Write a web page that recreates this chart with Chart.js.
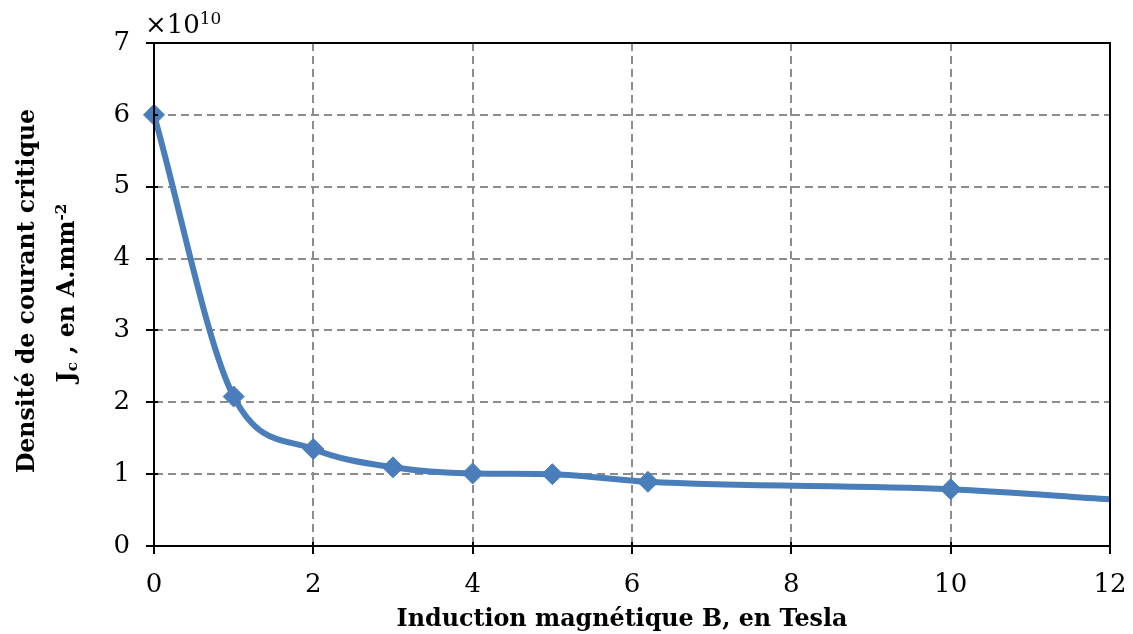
<!DOCTYPE html>
<html>
<head>
<meta charset="utf-8">
<script src="https://cdn.jsdelivr.net/npm/chart.js@4/dist/chart.umd.min.js"></script>
<style>
  html, body { margin: 0; padding: 0; background: #fff; }
  #wrap { width: 1133px; height: 634px; position: relative; }
</style>
</head>
<body>
<div id="wrap"><canvas id="myChart"></canvas></div>
<script>
// induction B (Tesla) et densité de courant critique Jc (A.mm-2)
const inductionB = [0, 1, 2, 3, 4, 5, 6.2, 10, 12];
const densiteJc = [6.0e10, 2.08e10, 1.35e10, 1.095e10, 1.01e10, 1.0e10, 0.893e10, 0.79e10, 0.65e10];
const xTicks = [0, 2, 4, 6, 8, 10, 12];
const yTicks = [0, 1, 2, 3, 4, 5, 6, 7];
const facteur = 1e10;

const bleu = '#4a7ebb';
const serif = '"DejaVu Serif", "Liberation Serif", serif';

// dessine une suite de morceaux de texte (indice / exposant) sur une ligne
function drawRich(ctx, parts, size, bold, align) {
  let total = 0;
  parts.forEach(p => {
    const s = p.pos ? size * 0.65 : size;
    ctx.font = (bold ? 'bold ' : '') + s + 'px ' + serif;
    p.w = ctx.measureText(p.t).width;
    p.s = s;
    total += p.w;
  });
  let x = align === 'left' ? 0 : -total / 2;
  parts.forEach(p => {
    ctx.font = (bold ? 'bold ' : '') + p.s + 'px ' + serif;
    let dy = 0;
    if (p.pos === 'sup') dy = -size * 0.33;
    if (p.pos === 'sub') dy = size * 0.12;
    ctx.fillText(p.t, x, dy);
    x += p.w;
  });
}

const titres = {
  id: 'titres',
  afterDraw(c) {
    const ctx = c.ctx;
    const a = c.chartArea;
    ctx.save();
    ctx.fillStyle = '#000';
    ctx.textAlign = 'left';
    ctx.textBaseline = 'alphabetic';

    // cadre noir autour de la zone de tracé
    ctx.strokeStyle = '#000';
    ctx.lineWidth = 2;
    ctx.strokeRect(a.left, a.top, a.right - a.left, a.bottom - a.top);

    // petites graduations qui dépassent vers l'intérieur
    ctx.beginPath();
    c.scales.x.ticks.forEach(t => {
      const px = Math.round(c.scales.x.getPixelForValue(t.value));
      ctx.moveTo(px, a.bottom);
      ctx.lineTo(px, a.bottom - 4);
    });
    c.scales.y.ticks.forEach(t => {
      const py = Math.round(c.scales.y.getPixelForValue(t.value));
      ctx.moveTo(a.left, py);
      ctx.lineTo(a.left + 4, py);
    });
    ctx.stroke();

    // facteur d'échelle de l'axe vertical
    ctx.save();
    ctx.translate(145, 33);
    drawRich(ctx, [{ t: '×10' }, { t: '10', pos: 'sup' }], 26, false, 'left');
    ctx.restore();

    // titre de l'axe horizontal
    ctx.save();
    ctx.translate(622, 626);
    drawRich(ctx, [{ t: 'Induction magnétique B, en Tesla' }], 23.8, true);
    ctx.restore();

    // titre de l'axe vertical, sur deux lignes
    ctx.save();
    ctx.translate(34, 291);
    ctx.rotate(-Math.PI / 2);
    drawRich(ctx, [{ t: 'Densité de courant critique' }], 23.6, true);
    ctx.restore();

    ctx.save();
    ctx.translate(74, 293);
    ctx.rotate(-Math.PI / 2);
    drawRich(ctx, [{ t: 'J' }, { t: 'c', pos: 'sub' }, { t: ' , en A.mm' }, { t: '-2', pos: 'sup' }], 23.6, true);
    ctx.restore();

    ctx.restore();
  }
};

const points = inductionB.map((b, i) => ({ x: b, y: densiteJc[i] }));
const dernier = points.length - 1;

new Chart(document.getElementById('myChart'), {
  type: 'scatter',
  data: {
    datasets: [{
      data: points,
      showLine: true,
      clip: false,
      borderColor: bleu,
      backgroundColor: bleu,
      borderWidth: 6,
      cubicInterpolationMode: 'monotone',
      pointStyle: 'rectRot',
      pointRadius: ctx => ctx.dataIndex === dernier ? 0 : 10.5,
      pointBorderWidth: 1,
      pointBorderColor: bleu,
      pointBackgroundColor: bleu
    }]
  },
  options: {
    responsive: true,
    maintainAspectRatio: false,
    animation: false,
    layout: { padding: { left: 0, top: 43, right: 23, bottom: 0 } },
    plugins: {
      legend: { display: false },
      tooltip: { enabled: false }
    },
    scales: {
      x: {
        type: 'linear',
        min: 0,
        max: 12,
        afterBuildTicks: s => { s.ticks = xTicks.map(v => ({ value: v })); },
        afterFit: s => {
          s.height = 88;
          s.paddingLeft = 0;
          s.paddingRight = 0;
        },
        ticks: {
          color: '#000',
          font: { family: serif, size: 26 },
          padding: 16,
          maxRotation: 0
        },
        grid: {
          color: '#8c8c8c',
          lineWidth: 2,
          tickLength: 8,
          tickColor: '#000',
          tickWidth: 2
        },
        border: { color: '#000', width: 2, dash: [8, 5] }
      },
      y: {
        type: 'linear',
        min: 0,
        max: 7 * facteur,
        afterBuildTicks: s => { s.ticks = yTicks.map(v => ({ value: v * facteur })); },
        afterFit: s => {
          s.width = 154;
          s.paddingTop = 0;
          s.paddingBottom = 0;
        },
        ticks: {
          color: '#000',
          font: { family: serif, size: 26 },
          padding: 16,
          callback: v => Math.round(v / facteur)
        },
        grid: {
          color: '#8c8c8c',
          lineWidth: 2,
          tickLength: 8,
          tickColor: '#000',
          tickWidth: 2
        },
        border: { color: '#000', width: 2, dash: [8, 5] }
      }
    }
  },
  plugins: [titres]
});
</script>
</body>
</html>
